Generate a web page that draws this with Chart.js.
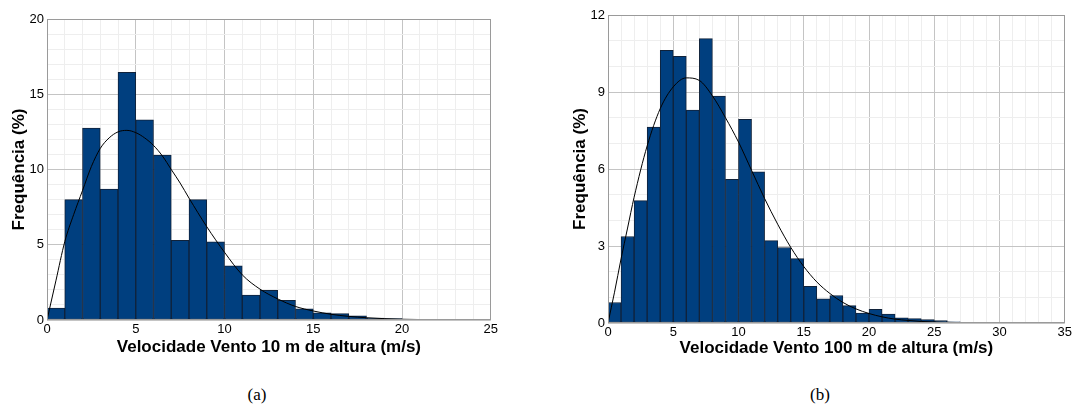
<!DOCTYPE html>
<html>
<head>
<meta charset="utf-8">
<script src="https://cdn.jsdelivr.net/npm/chart.js@4/dist/chart.umd.min.js"></script>
<style>
  html, body { margin: 0; padding: 0; background: #fff; }
  body { width: 1074px; height: 406px; position: relative; overflow: hidden; }
  .box { position: absolute; }
  .cap { position: absolute; font-family: "Liberation Serif", "Times New Roman", serif; font-size: 17px; color: #000; transform: translateX(-50%); }
</style>
</head>
<body>
<div class="box" id="boxA" style="left:0;top:0;width:500px;height:360px"><canvas id="chartA"></canvas></div>
<div class="box" id="boxB" style="left:560px;top:0;width:514px;height:360px"><canvas id="chartB"></canvas></div>
<div class="cap" style="left:257px;top:385px">(a)</div>
<div class="cap" style="left:820px;top:385px">(b)</div>
<script>
// Wind speed histograms (1 m/s bins) with fitted distribution curves.

// (a) 10 m height
const binStartA = [0,1,2,3,4,5,6,7,8,9,10,11,12,13,14,15,16,17,18,19,20,21,22];
const freqA = [0.8,8.0,12.75,8.7,16.45,13.3,10.95,5.3,8.0,5.2,3.6,1.65,1.97,1.3,0.75,0.47,0.42,0.27,0.13,0.09,0.04,0.02,0.01];
const fitXA = [0,0.5,1,1.5,2,2.5,3,3.5,4,4.5,5,5.5,6,6.5,7,7.5,8,9,10,11,12,13,14,15,16,17,18,19,20,22,25];
const fitYA = [0,2.6,5.2,7.0,8.6,10.2,11.4,12.1,12.5,12.6,12.45,12.1,11.6,10.9,10.0,9.1,8.1,6.2,4.5,3.0,2.05,1.4,0.9,0.6,0.38,0.24,0.15,0.09,0.05,0.02,0];
const xLabelsA = [0,5,10,15,20,25];
const yLabelsA = [0,5,10,15,20];

// (b) 100 m height
const binStartB = [0,1,2,3,4,5,6,7,8,9,10,11,12,13,14,15,16,17,18,19,20,21,22,23,24,25,26,27,28];
const freqB = [0.8,3.37,4.77,7.63,10.62,10.39,8.3,11.08,8.84,5.6,7.94,5.89,3.21,2.94,2.51,1.43,0.94,1.07,0.68,0.39,0.53,0.35,0.2,0.17,0.13,0.09,0.05,0.02,0.01];
const fitXB = [0,0.5,1,1.5,2,3,4,5,6,7,8,9,10,11,12,13,14,15,16,17,18,19,20,21,22,23,24,25,27,30,35];
const fitYB = [0,1.2,2.5,3.7,4.9,6.9,8.35,9.2,9.55,9.45,8.85,8.0,7.05,5.95,4.85,3.85,2.95,2.2,1.6,1.15,0.8,0.55,0.37,0.24,0.15,0.1,0.06,0.04,0.015,0,0];
const xLabelsB = [0,5,10,15,20,25,30,35];
const yLabelsB = [0,3,6,9,12];

const BAR_FILL = '#003f7f';
const BAR_EDGE = '#10223a';
const MAJOR_GRID = '#c4c4c4';
const MINOR_GRID = '#eeeeee';
const TICK_FONT = { family: '"Liberation Sans", Arial, sans-serif', size: 13 };
const TITLE_FONT = { family: '"Liberation Sans", Arial, sans-serif', size: 17, weight: 'bold' };

// frame around the plotting area
const framePlugin = {
  id: 'frame',
  afterDatasetsDraw(chart) {
    const a = chart.chartArea, ctx = chart.ctx;
    ctx.save();
    ctx.strokeStyle = '#9a9a9a';
    ctx.lineWidth = 1;
    ctx.strokeRect(Math.round(a.left) + 0.5, Math.round(a.top) + 0.5,
                   Math.round(a.right - a.left) - 1, Math.round(a.bottom - a.top) - 1);
    ctx.restore();
  }
};

function gridColor(labels) {
  return c => (c.tick && !labels.includes(c.tick.value)) ? MINOR_GRID : MAJOR_GRID;
}

function makeChart(id, cfg) {
  const bars = cfg.binStart.map((b, i) => ({ x: b + 0.5, y: cfg.freq[i] }));
  const fit = cfg.fitX.map((x, i) => ({ x: x, y: cfg.fitY[i] }));
  return new Chart(document.getElementById(id), {
    type: 'bar',
    data: {
      datasets: [
        {
          type: 'line', data: fit, order: 0,
          borderColor: '#000', borderWidth: 1, pointRadius: 0,
          cubicInterpolationMode: 'monotone', fill: false
        },
        {
          type: 'bar', data: bars, order: 1,
          backgroundColor: BAR_FILL, borderColor: BAR_EDGE, borderWidth: 1,
          barPercentage: 1, categoryPercentage: 1, borderSkipped: false
        }
      ]
    },
    options: {
      responsive: true, maintainAspectRatio: false, animation: false,
      layout: { padding: cfg.padding },
      plugins: { legend: { display: false }, tooltip: { enabled: false } },
      scales: {
        x: {
          type: 'linear', min: 0, max: cfg.xMax, offset: false,
          afterFit: s => { s.height = cfg.xAxisH; },
          border: { display: false },
          grid: { offset: false, drawTicks: false, color: gridColor(cfg.xLabels) },
          ticks: {
            stepSize: 1, autoSkip: false, maxRotation: 0, padding: 2, color: '#000', font: TICK_FONT,
            callback: v => cfg.xLabels.includes(v) ? String(v) : ''
          },
          title: { display: true, text: cfg.xTitle, color: '#000', font: TITLE_FONT,
                   padding: { top: 0, bottom: cfg.xTitlePad } }
        },
        y: {
          min: 0, max: cfg.yMax,
          afterFit: s => { s.width = cfg.yAxisW; },
          border: { display: false },
          grid: { drawTicks: false, color: gridColor(cfg.yLabels) },
          ticks: {
            stepSize: 1, autoSkip: false, padding: 3, color: '#000', font: TICK_FONT,
            callback: v => cfg.yLabels.includes(v) ? String(v) : ''
          },
          title: { display: true, text: 'Frequência (%)', color: '#000', font: TITLE_FONT,
                   padding: { top: cfg.yTitlePad, bottom: 0 } }
        }
      }
    },
    plugins: [framePlugin]
  });
}

makeChart('chartA', {
  binStart: binStartA, freq: freqA, fitX: fitXA, fitY: fitYA,
  xLabels: xLabelsA, yLabels: yLabelsA, xMax: 25, yMax: 20,
  xTitle: 'Velocidade Vento 10 m de altura (m/s)',
  padding: { top: 19, right: 9, left: 0, bottom: 0 },
  yAxisW: 47, xAxisH: 40, xTitlePad: 2, yTitlePad: 9
});

makeChart('chartB', {
  binStart: binStartB, freq: freqB, fitX: fitXB, fitY: fitYB,
  xLabels: xLabelsB, yLabels: yLabelsB, xMax: 35, yMax: 12,
  xTitle: 'Velocidade Vento 100 m de altura (m/s)',
  padding: { top: 15, right: 8, left: 0, bottom: 0 },
  yAxisW: 48, xAxisH: 37, xTitlePad: 1, yTitlePad: 10
});
</script>
</body>
</html>
